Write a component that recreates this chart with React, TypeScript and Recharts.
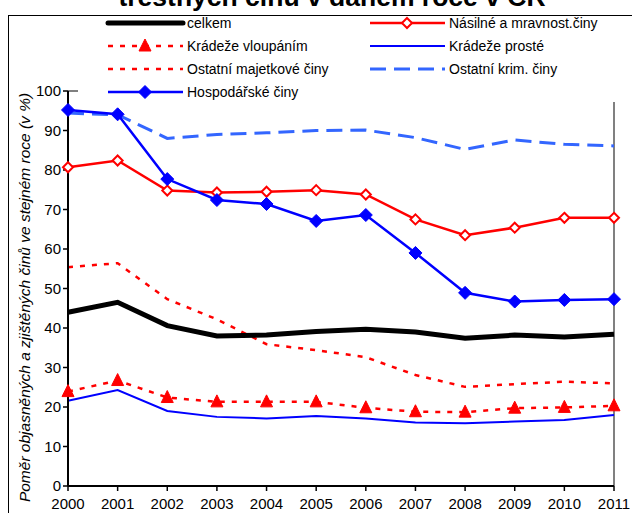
import React from 'react';
import { LineChart, Line, XAxis, YAxis, ReferenceLine, Legend } from 'recharts';

const years = ['2000', '2001', '2002', '2003', '2004', '2005', '2006', '2007', '2008', '2009', '2010', '2011'];
const celkem = [44.0, 46.5, 40.6, 38.0, 38.2, 39.1, 39.7, 39.0, 37.4, 38.2, 37.7, 38.4];
const nasilne = [80.7, 82.4, 74.8, 74.3, 74.5, 74.9, 73.8, 67.5, 63.5, 65.4, 67.9, 67.9];
const vloupani = [23.9, 26.7, 22.4, 21.3, 21.3, 21.3, 19.8, 18.8, 18.7, 19.7, 19.9, 20.3];
const proste = [21.6, 24.3, 19.0, 17.5, 17.1, 17.7, 17.1, 16.1, 15.9, 16.3, 16.7, 18.0];
const majetkove = [55.4, 56.4, 47.3, 42.2, 35.9, 34.4, 32.6, 28.1, 25.1, 25.8, 26.4, 26.0];
const krim = [94.4, 94.0, 88.0, 89.0, 89.4, 90.0, 90.1, 88.2, 85.2, 87.6, 86.5, 86.1];
const hospodarske = [95.2, 94.1, 77.7, 72.4, 71.4, 67.1, 68.6, 59.0, 48.9, 46.7, 47.1, 47.3];
const yTicks = [0, 10, 20, 30, 40, 50, 60, 70, 80, 90, 100];

const seriesNames = [
  'celkem',
  'Násilné a mravnost.činy',
  'Krádeže vloupáním',
  'Krádeže prosté',
  'Ostatní majetkové činy',
  'Ostatní krim. činy',
  'Hospodářské činy',
];

const data = years.map((y, i) => ({
  year: y,
  celkem: celkem[i],
  nasilne: nasilne[i],
  vloupani: vloupani[i],
  proste: proste[i],
  majetkove: majetkove[i],
  krim: krim[i],
  hospodarske: hospodarske[i],
}));

const RED = '#FF0000';
const BLUE = '#0000FF';
const LBLUE = '#3366FF';
const FONT = "'Liberation Sans', Arial, sans-serif";

const OpenDiamond = (props: any) => {
  const { cx, cy } = props;
  if (cx == null || cy == null) return null;
  const r = 5;
  return (
    <path
      d={`M${cx},${cy - r} L${cx + r},${cy} L${cx},${cy + r} L${cx - r},${cy} Z`}
      fill="#fff"
      stroke={RED}
      strokeWidth={2}
    />
  );
};

const FilledDiamond = (props: any) => {
  const { cx, cy } = props;
  if (cx == null || cy == null) return null;
  const r = 6.5;
  return (
    <path
      d={`M${cx},${cy - r} L${cx + r},${cy} L${cx},${cy + r} L${cx - r},${cy} Z`}
      fill={BLUE}
      stroke={BLUE}
      strokeWidth={1}
    />
  );
};

const Triangle = (props: any) => {
  const { cx, cy } = props;
  if (cx == null || cy == null) return null;
  return (
    <path
      d={`M${cx},${cy - 7} L${cx + 6},${cy + 5} L${cx - 6},${cy + 5} Z`}
      fill={RED}
      stroke={RED}
      strokeWidth={1}
    />
  );
};

type LegendItem = {
  name: string;
  color: string;
  width: number;
  dash?: string;
  marker?: 'open' | 'filled' | 'tri';
  col: number;
  row: number;
};

const legendItems: LegendItem[] = [
  { name: seriesNames[0], color: '#000', width: 5, col: 0, row: 0 },
  { name: seriesNames[1], color: RED, width: 2.5, marker: 'open', col: 1, row: 0 },
  { name: seriesNames[2], color: RED, width: 2.5, dash: '5 7', marker: 'tri', col: 0, row: 1 },
  { name: seriesNames[3], color: BLUE, width: 2, col: 1, row: 1 },
  { name: seriesNames[4], color: RED, width: 2.5, dash: '5 7', col: 0, row: 2 },
  { name: seriesNames[5], color: LBLUE, width: 3, dash: '16 8', col: 1, row: 2 },
  { name: seriesNames[6], color: BLUE, width: 2.5, marker: 'filled', col: 0, row: 3 },
];

const renderLegend = () => {
  const rowY = [7, 30, 53, 76];
  const colX = [30, 292];
  return (
    <svg width={540} height={86} style={{ display: 'block', background: '#fff' }}>
      {legendItems.map((it, i) => {
        const x0 = colX[it.col];
        const y = rowY[it.row];
        const mx = x0 + 37;
        return (
          <g key={i}>
            <line x1={x0} y1={y} x2={x0 + 75} y2={y} stroke={it.color} strokeWidth={it.width} strokeDasharray={it.dash} strokeLinecap={it.width >= 5 ? 'round' : 'butt'} />
            {it.marker === 'open' && <OpenDiamond cx={mx} cy={y} />}
            {it.marker === 'filled' && <FilledDiamond cx={mx} cy={y} />}
            {it.marker === 'tri' && <Triangle cx={mx} cy={y} />}
            <text x={x0 + 79} y={y + 5} fontSize={14} style={{ fontFamily: FONT }} fill="#000">
              {it.name}
            </text>
          </g>
        );
      })}
    </svg>
  );
};

const YLabel = (props: any) => {
  const vb = props.viewBox || { x: 0, y: 91, width: 68, height: 395 };
  const x = vb.x + 24;
  const y = vb.y + vb.height / 2 + 9;
  return (
    <text
      x={x}
      y={y}
      transform={`rotate(-90, ${x}, ${y})`}
      textAnchor="middle"
      dominantBaseline="central"
      fontSize={15.5}
      fontStyle="italic"
      style={{ fontFamily: FONT }}
      fill="#000"
    >
      Poměr objasněných a zjištěných činů ve stejném roce (v %)
    </text>
  );
};

const tickStyle = { fontSize: 15, fill: '#000', fontFamily: FONT };

export default function App() {
  return (
    <div style={{ position: 'absolute', left: 0, top: 0, width: 632, height: 513, background: '#fff', overflow: 'hidden' }}>
      <div
        style={{
          position: 'absolute',
          left: 0,
          width: 664,
          top: -18,
          textAlign: 'center',
          fontFamily: FONT,
          fontWeight: 'bold',
          fontSize: 26.5,
          lineHeight: '30px',
          whiteSpace: 'nowrap',
        }}
      >
        trestných činů v daném roce v ČR
      </div>
      <div style={{ position: 'absolute', left: 8, top: 15, width: 640, height: 520, border: '1px solid #000', boxSizing: 'border-box', background: '#fff' }} />
      <div style={{ position: 'absolute', left: 0, top: 0 }}>
        <LineChart width={632} height={513} data={data} margin={{ top: 91, right: 18, left: 0, bottom: 0 }}>
          <XAxis
            dataKey="year"
            height={27}
            tick={tickStyle}
            tickSize={5}
            tickMargin={7}
            axisLine={{ stroke: '#000', strokeWidth: 2 }}
            tickLine={{ stroke: '#000', strokeWidth: 1.5 }}
            interval={0}
          />
          <YAxis
            width={68}
            domain={[0, 100]}
            ticks={yTicks}
            tick={tickStyle}
            tickSize={5}
            tickMargin={2}
            axisLine={{ stroke: '#000', strokeWidth: 2 }}
            tickLine={{ stroke: '#000', strokeWidth: 1.5 }}
            label={<YLabel />}
          />
          <ReferenceLine y={100} stroke="#808080" strokeWidth={2} />
          <ReferenceLine x="2011" stroke="#808080" strokeWidth={2} />
          <Line dataKey="krim" name={seriesNames[5]} stroke={LBLUE} strokeWidth={3} strokeDasharray="16 8" dot={false} isAnimationActive={false} />
          <Line dataKey="majetkove" name={seriesNames[4]} stroke={RED} strokeWidth={2.5} strokeDasharray="5 7" dot={false} isAnimationActive={false} />
          <Line dataKey="proste" name={seriesNames[3]} stroke={BLUE} strokeWidth={2} dot={false} isAnimationActive={false} />
          <Line dataKey="vloupani" name={seriesNames[2]} stroke={RED} strokeWidth={2.5} strokeDasharray="5 7" dot={<Triangle />} isAnimationActive={false} />
          <Line dataKey="celkem" name={seriesNames[0]} stroke="#000" strokeWidth={5} dot={false} isAnimationActive={false} />
          <Line dataKey="nasilne" name={seriesNames[1]} stroke={RED} strokeWidth={2.5} dot={<OpenDiamond />} isAnimationActive={false} />
          <Line dataKey="hospodarske" name={seriesNames[6]} stroke={BLUE} strokeWidth={2.5} dot={<FilledDiamond />} isAnimationActive={false} />
          <Legend
            layout="vertical"
            align="center"
            verticalAlign="middle"
            content={renderLegend}
            wrapperStyle={{ left: 78, top: 16, width: 540, height: 86, margin: 0, padding: 0 }}
          />
        </LineChart>
      </div>
    </div>
  );
}
